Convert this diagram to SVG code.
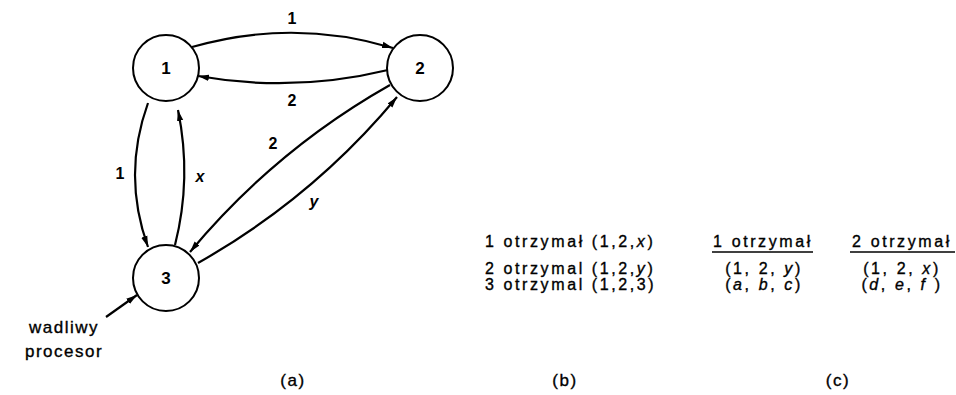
<svg xmlns="http://www.w3.org/2000/svg" width="956" height="395" viewBox="0 0 956 395">
<defs>
<marker id="ah" markerUnits="userSpaceOnUse" markerWidth="12" markerHeight="8" refX="11" refY="4" orient="auto">
<path d="M0,0.8 L11,4 L0,7.2 z" fill="#000"/>
</marker>
<style>
.n{fill:#fff;stroke:#000;stroke-width:2}
.e{fill:none;stroke:#000;stroke-width:2.2;marker-end:url(#ah)}
.t{font-family:"Liberation Sans",Arial,sans-serif;font-size:17px;fill:#000;stroke:#000;stroke-width:0.35;letter-spacing:1.5px}
.nl{font-family:"Liberation Sans",Arial,sans-serif;font-size:17px;font-weight:bold;fill:#000;text-anchor:middle}
.el{font-family:"Liberation Sans",Arial,sans-serif;font-size:16px;font-weight:bold;fill:#000;text-anchor:middle}
.tb{font-family:"Liberation Sans",Arial,sans-serif;font-size:16px;fill:#000;stroke:#000;stroke-width:0.35;letter-spacing:2.6px}
.c{text-anchor:middle}
</style>
</defs>
<rect width="956" height="395" fill="#fff"/>
<g id="connectors">
<path class="e" d="M192,47 Q293,18 393,48"/>
<path class="e" d="M388,70 Q293,93 198,76"/>
<path class="e" d="M148,103 Q122,175 148,247"/>
<path class="e" d="M175,245 Q192,178 178,110"/>
<path class="e" d="M390,85 Q275,150 190,252"/>
<path class="e" d="M198,263 Q313,198 397,97"/>
<path class="e" d="M106,317 L137,295"/>
<text class="el" x="292" y="24">1</text>
<text class="el" x="292" y="106">2</text>
<text class="el" x="120" y="179">1</text>
<text class="el" x="200" y="182" font-style="italic">x</text>
<text class="el" x="273" y="149">2</text>
<text class="el" x="314" y="207" font-style="italic">y</text>
</g>
<g id="node1"><circle class="n" cx="166" cy="68" r="33"/><text class="nl" x="166" y="74">1</text></g>
<g id="node2"><circle class="n" cx="420" cy="68" r="33"/><text class="nl" x="420" y="74">2</text></g>
<g id="node3"><circle class="n" cx="166" cy="278" r="33"/><text class="nl" x="166" y="284">3</text></g>
<g id="faulty">
<text class="t c" x="64" y="333">wadliwy</text>
<text class="t c" x="64" y="357">procesor</text>
</g>
<g id="table">
<text class="tb" x="485" y="247">1 otrzymał (1,2,<tspan font-style="italic">x</tspan>)</text>
<text class="tb" x="485" y="274">2 otrzymal (1,2,<tspan font-style="italic">y</tspan>)</text>
<text class="tb" x="485" y="290">3 otrzymal (1,2,3)</text>
<text class="tb c" x="763" y="247">1 otrzymał</text>
<line x1="712" y1="252" x2="813" y2="252" stroke="#000" stroke-width="1.5"/>
<text class="tb c" x="902" y="247">2 otrzymał</text>
<line x1="850" y1="252" x2="955" y2="252" stroke="#000" stroke-width="1.5"/>
<text class="tb c" x="764" y="274">(1, 2, <tspan font-style="italic">y</tspan>)</text>
<text class="tb c" x="764" y="290">(<tspan font-style="italic">a</tspan>, <tspan font-style="italic">b</tspan>, <tspan font-style="italic">c</tspan>)</text>
<text class="tb c" x="902" y="274">(1, 2, <tspan font-style="italic">x</tspan>)</text>
<text class="tb c" x="902" y="290">(<tspan font-style="italic">d</tspan>, <tspan font-style="italic">e</tspan>, <tspan font-style="italic">f</tspan> )</text>
</g>
<g id="captions">
<text class="t c" x="293" y="386">(a)</text>
<text class="t c" x="565" y="386">(b)</text>
<text class="t c" x="838" y="386">(c)</text>
</g>
</svg>
